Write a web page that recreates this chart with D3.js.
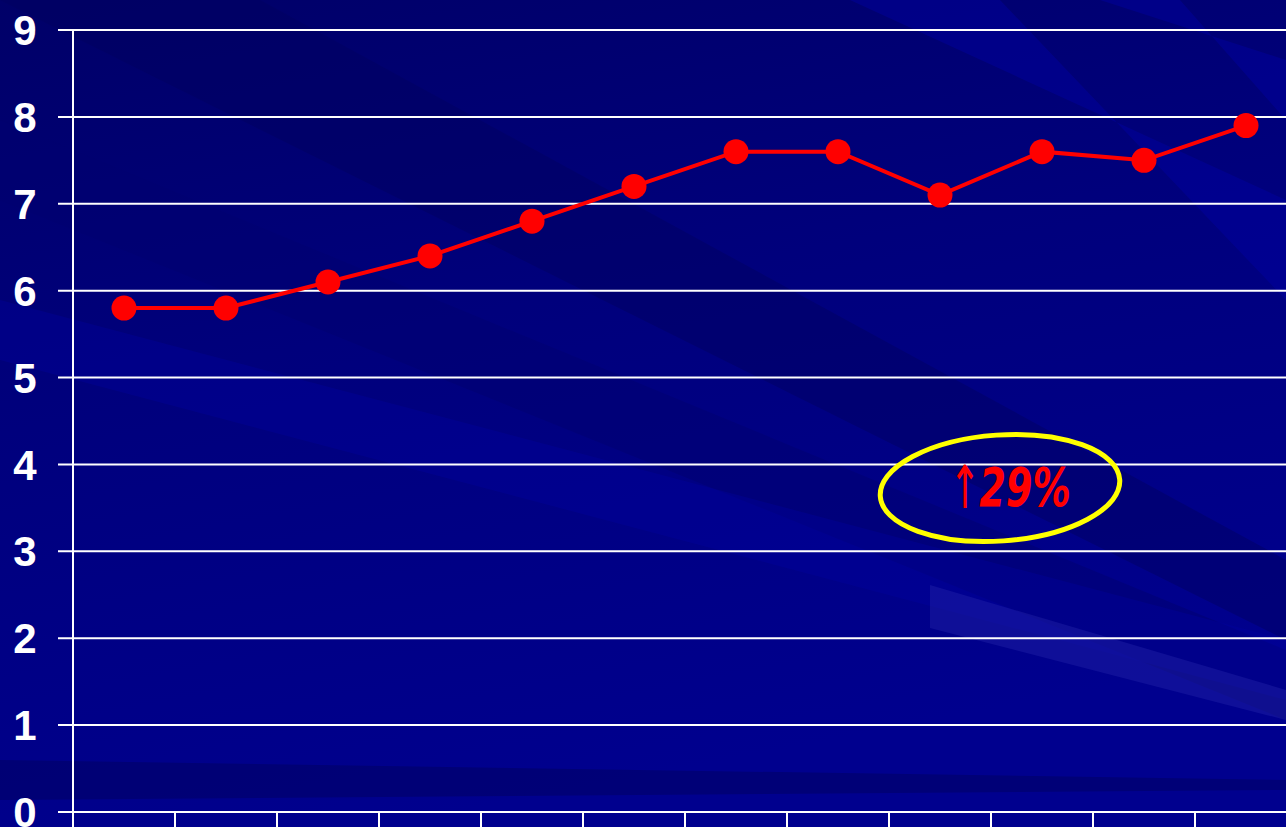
<!DOCTYPE html>
<html>
<head>
<meta charset="utf-8">
<script src="https://cdn.jsdelivr.net/npm/d3@7"></script>
<style>
  html, body { margin: 0; padding: 0; background: #00007e; overflow: hidden; }
</style>
</head>
<body>
<div id="chart"></div>
<script>
// data
let categories = ['1', '2', '3', '4', '5', '6', '7', '8', '9', '10', '11', '12']
let values = [5.8, 5.8, 6.1, 6.4, 6.8, 7.2, 7.6, 7.6, 7.1, 7.6, 7.5, 7.9]
let yTicks = [0, 1, 2, 3, 4, 5, 6, 7, 8, 9]
let arrow = '\u2191'
let note = '29%'

let width = 1286
let height = 827
let margin = { top: 30, left: 73, right: -11, bottom: 15 }

let svg = d3.select('#chart')
  .append('svg')
  .attr('width', width)
  .attr('height', height)

// background: dark blue with diagonal streaks
let defs = svg.append('defs')
let grad = defs.append('linearGradient')
  .attr('id', 'bg')
  .attr('x1', 0).attr('y1', 0).attr('x2', 0.3).attr('y2', 1)
grad.append('stop').attr('offset', '0%').attr('stop-color', '#000068')
grad.append('stop').attr('offset', '45%').attr('stop-color', '#00007c')
grad.append('stop').attr('offset', '100%').attr('stop-color', '#00008e')

svg.append('rect')
  .attr('width', width)
  .attr('height', height)
  .attr('fill', 'url(#bg)')

let streaks = [
  { pts: [[0, 0], [260, 0], [1286, 560], [1286, 640]], fill: '#000060', op: 0.45 },
  { pts: [[0, 120], [0, 200], [1286, 720], [1286, 650]], fill: '#000070', op: 0.5 },
  { pts: [[0, 300], [0, 360], [1286, 700], [1286, 640]], fill: '#0000a0', op: 0.35 },
  { pts: [[930, 585], [1286, 690], [1286, 720], [930, 628]], fill: '#2a2ab0', op: 0.35 },
  { pts: [[850, 0], [1000, 0], [1286, 300], [1286, 200]], fill: '#0000a8', op: 0.4 },
  { pts: [[1100, 0], [1180, 0], [1286, 120], [1286, 60]], fill: '#0000b0', op: 0.35 },
  { pts: [[0, 760], [0, 800], [1286, 790], [1286, 780]], fill: '#000060', op: 0.5 }
]
svg.selectAll('.streak')
  .data(streaks)
  .enter()
  .append('polygon')
  .attr('class', 'streak')
  .attr('points', d => d.pts.join(' '))
  .attr('fill', d => d.fill)
  .attr('opacity', d => d.op)

let plotW = 102 * categories.length

let x = d3.scaleBand()
  .domain(categories)
  .range([margin.left, margin.left + plotW])

let y = d3.scaleLinear()
  .domain([0, 9])
  .range([margin.top + 782, margin.top])

// grid lines
svg.selectAll('.grid')
  .data(yTicks)
  .enter()
  .append('line')
  .attr('class', 'grid')
  .attr('x1', margin.left - 15)
  .attr('x2', width)
  .attr('y1', d => y(d))
  .attr('y2', d => y(d))
  .attr('stroke', 'white')
  .attr('stroke-width', 2)

// y axis line
svg.append('line')
  .attr('x1', margin.left)
  .attr('x2', margin.left)
  .attr('y1', y(9))
  .attr('y2', height)
  .attr('stroke', 'white')
  .attr('stroke-width', 2)

// y labels
svg.selectAll('.ylabel')
  .data(yTicks)
  .enter()
  .append('text')
  .attr('class', 'ylabel')
  .attr('x', 25)
  .attr('y', d => y(d))
  .attr('dy', '0.36em')
  .attr('text-anchor', 'middle')
  .attr('fill', 'white')
  .attr('font-family', 'Liberation Sans, Arial, sans-serif')
  .attr('font-weight', 'bold')
  .attr('font-size', 42)
  .text(d => d)

// x tick marks at band edges
let edges = categories.map(c => x(c)).concat([x(categories[categories.length - 1]) + x.bandwidth()])
svg.selectAll('.xtick')
  .data(edges)
  .enter()
  .append('line')
  .attr('class', 'xtick')
  .attr('x1', d => d)
  .attr('x2', d => d)
  .attr('y1', y(0))
  .attr('y2', height)
  .attr('stroke', 'white')
  .attr('stroke-width', 2)

// line
let line = d3.line()
  .x((d, i) => x(categories[i]) + x.bandwidth() / 2)
  .y(d => y(d))

svg.append('path')
  .datum(values)
  .attr('d', line)
  .attr('fill', 'none')
  .attr('stroke', '#ff0000')
  .attr('stroke-width', 4)

svg.selectAll('.dot')
  .data(values)
  .enter()
  .append('circle')
  .attr('class', 'dot')
  .attr('cx', (d, i) => x(categories[i]) + x.bandwidth() / 2)
  .attr('cy', d => y(d))
  .attr('r', 12.5)
  .attr('fill', '#ff0000')

// annotation
let ann = svg.append('g')
  .attr('transform', 'translate(1000,488) rotate(-4)')

ann.append('ellipse')
  .attr('rx', 120)
  .attr('ry', 53)
  .attr('fill', 'none')
  .attr('stroke', '#ffff00')
  .attr('stroke-width', 5)

svg.append('text')
  .attr('x', 965)
  .attr('y', 508)
  .attr('text-anchor', 'middle')
  .attr('fill', '#ff0000')
  .attr('font-family', 'DejaVu Sans, sans-serif')
  .attr('font-size', 54)
  .attr('transform', 'translate(965,508) scale(0.7,1.1) translate(-965,-508)')
  .text(arrow)

svg.append('text')
  .attr('x', 1025)
  .attr('y', 506)
  .attr('text-anchor', 'middle')
  .attr('fill', '#ff0000')
  .attr('font-family', 'DejaVu Sans Condensed, DejaVu Sans, sans-serif')
  .attr('font-style', 'italic')
  .attr('font-weight', 'bold')
  .attr('font-size', 50)
  .attr('transform', 'translate(1025,506) scale(0.85,1.05) translate(-1025,-506)')
  .text(note)
</script>
</body>
</html>
